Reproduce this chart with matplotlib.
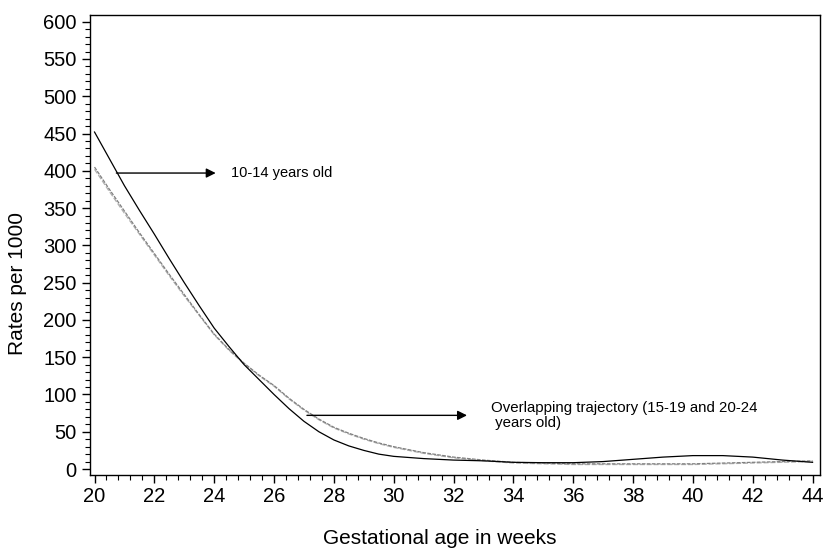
import numpy as np
import matplotlib
matplotlib.use('Agg')
import matplotlib.pyplot as plt
from matplotlib.ticker import MultipleLocator

plt.rcParams['font.family'] = ['Liberation Sans', 'DejaVu Sans']

# gestational age (weeks)
weeks = [20, 20.5, 21, 21.5, 22, 22.5, 23, 23.5, 24, 24.5, 25, 25.5, 26, 26.5,
         27, 27.5, 28, 28.5, 29, 29.5, 30, 31, 32, 33, 34, 35, 36, 37, 38, 39,
         40, 41, 42, 43, 44]

# rates per 1000, 10-14 years old
rate_10_14 = [452, 416, 380, 347, 315, 282, 250, 219, 189, 164, 140, 120, 100, 81,
              64, 50, 39, 31, 25, 20, 17, 14, 12, 11, 9, 8.5, 8.5, 10, 13, 16,
              18, 18, 16, 12, 9]

# 15-19 years old
rate_15_19 = [405, 375, 346, 317, 289, 261, 234, 207, 181, 160, 142, 126, 112, 95,
              80, 67, 56, 48, 41, 35, 30, 22, 16, 12, 9, 8, 7, 7, 7, 7,
              7, 8, 9, 10, 11]

# 20-24 years old
rate_20_24 = [402, 372, 343, 315, 287, 259, 232, 206, 180, 159, 141, 125, 111, 94,
              79, 66, 55, 47, 40, 34, 29, 21, 15, 11, 8, 7, 6, 6, 6, 6,
              6, 7, 8, 9, 10]

fig = plt.figure(figsize=(8.23, 5.49), dpi=100)
ax = fig.add_axes([0.1094, 0.1348, 0.8870, 0.8379])

ax.plot(weeks, rate_20_24, color='#b0b0b0', lw=0.9, ls=(0, (4, 1.5)))
ax.plot(weeks, rate_15_19, color='#808080', lw=0.9, ls=(0, (3, 1)))
ax.plot(weeks, rate_10_14, color='black', lw=0.9)

ax.set_xlim(19.85, 44.25)
ax.set_ylim(-8, 609)
ax.xaxis.set_major_locator(MultipleLocator(2))
ax.xaxis.set_minor_locator(MultipleLocator(0.4))
ax.yaxis.set_major_locator(MultipleLocator(50))
ax.yaxis.set_minor_locator(MultipleLocator(10))
ax.tick_params(which='major', direction='out', length=6, width=1, labelsize=14.5)
ax.tick_params(axis='x', which='major', pad=3)
ax.tick_params(which='minor', direction='out', length=3.5, width=0.8)

for s in ax.spines.values():
    s.set_linewidth(1.0)

xl = ax.set_xlabel('Gestational age in weeks', fontsize=15)
yl = ax.set_ylabel('Rates per 1000', fontsize=15)
ax.xaxis.set_label_coords(0.479, -0.137)
ax.yaxis.set_label_coords(-0.099, 0.417)
xl.set_va('center')
yl.set_va('center')

# annotations
ax.annotate('', xy=(24.05, 397), xytext=(20.73, 397),
            arrowprops=dict(arrowstyle='-|>', color='black', lw=1.0,
                            mutation_scale=14, shrinkA=0, shrinkB=0))
ax.text(24.55, 397, '10-14 years old', fontsize=10.5, va='center', ha='left')

ax.annotate('', xy=(32.45, 72), xytext=(27.1, 72),
            arrowprops=dict(arrowstyle='-|>', color='black', lw=1.0,
                            mutation_scale=14, shrinkA=0, shrinkB=0))
ax.text(33.25, 72, 'Overlapping trajectory (15-19 and 20-24\n years old)',
        fontsize=10.8, va='center', ha='left', linespacing=1.1)

fig.savefig('out.png', dpi=100)
